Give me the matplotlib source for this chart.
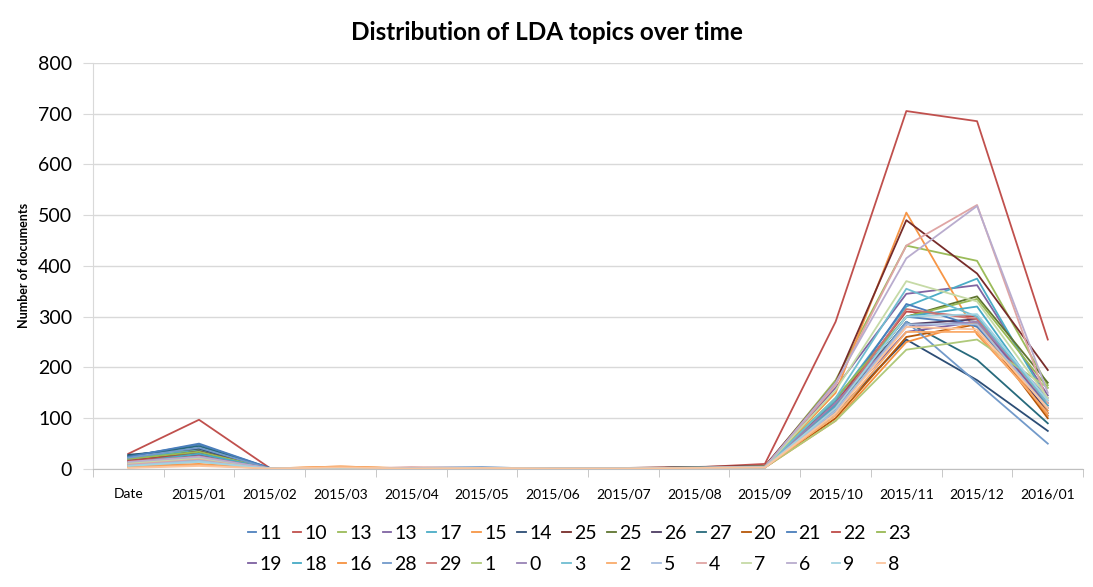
import matplotlib
matplotlib.use("Agg")
import matplotlib.pyplot as plt
from matplotlib.ticker import FixedLocator, NullFormatter

plt.rcParams["font.family"] = ["Lato", "DejaVu Sans"]

categories = ["Date", "2015/01", "2015/02", "2015/03", "2015/04", "2015/05", "2015/06",
              "2015/07", "2015/08", "2015/09", "2015/10", "2015/11", "2015/12", "2016/01"]

topics = ["11", "10", "13", "13", "17", "15", "14", "25", "25", "26", "27", "20", "21", "22", "23",
          "19", "18", "16", "28", "29", "1", "0", "3", "2", "5", "4", "7", "6", "9", "8"]

s11 = [25, 48, 2, 1, 2, 3, 1, 1, 3, 5, 120, 300, 285, 105]
s10 = [30, 97, 2, 1, 3, 2, 1, 2, 3, 10, 290, 705, 685, 255]
s13a = [20, 38, 1, 1, 2, 2, 1, 1, 2, 4, 175, 440, 410, 165]
s13b = [18, 30, 1, 2, 1, 2, 0, 1, 3, 5, 160, 345, 362, 145]
s17 = [22, 36, 1, 1, 2, 1, 1, 1, 2, 4, 135, 320, 375, 135]
s15 = [5, 10, 1, 5, 1, 2, 1, 1, 2, 3, 150, 505, 265, 115]
s14 = [28, 40, 1, 1, 2, 2, 1, 1, 3, 4, 110, 255, 175, 75]
s25a = [15, 35, 1, 1, 2, 2, 1, 2, 4, 6, 170, 490, 385, 195]
s25b = [12, 32, 1, 1, 1, 2, 1, 1, 3, 5, 120, 300, 340, 170]
s26 = [14, 28, 1, 1, 2, 2, 1, 1, 2, 4, 130, 285, 295, 110]
s27 = [26, 45, 2, 1, 2, 2, 1, 1, 3, 5, 115, 290, 215, 90]
s20 = [8, 22, 1, 3, 1, 2, 1, 1, 2, 3, 100, 260, 285, 100]
s21 = [24, 50, 2, 1, 2, 3, 1, 1, 3, 5, 125, 325, 280, 120]
s22 = [16, 30, 1, 1, 2, 2, 1, 1, 3, 5, 130, 310, 300, 120]
s23 = [20, 34, 1, 1, 2, 2, 1, 1, 3, 5, 140, 300, 335, 160]
s19 = [10, 26, 1, 1, 2, 2, 1, 1, 2, 4, 120, 270, 290, 125]
s18 = [12, 30, 1, 1, 1, 2, 1, 1, 2, 4, 125, 300, 320, 125]
s16 = [4, 15, 1, 4, 1, 2, 1, 1, 2, 3, 95, 250, 290, 105]
s28 = [22, 42, 1, 1, 2, 2, 1, 1, 3, 4, 110, 290, 170, 50]
s29 = [14, 25, 1, 1, 2, 2, 1, 1, 2, 4, 120, 315, 295, 130]
s1 = [9, 20, 1, 1, 2, 1, 1, 1, 2, 3, 95, 235, 255, 160]
s0 = [12, 24, 1, 1, 1, 2, 1, 1, 2, 4, 130, 280, 290, 140]
s3 = [10, 18, 1, 1, 2, 2, 1, 1, 2, 3, 140, 355, 300, 130]
s2 = [3, 8, 1, 5, 1, 2, 1, 1, 2, 3, 105, 270, 270, 110]
s5 = [8, 16, 1, 1, 1, 2, 1, 1, 2, 3, 115, 285, 285, 120]
s4 = [10, 20, 1, 1, 2, 2, 1, 1, 2, 4, 165, 440, 520, 130]
s7 = [12, 22, 1, 1, 2, 1, 1, 1, 2, 4, 155, 370, 330, 140]
s6 = [14, 24, 1, 1, 2, 2, 1, 1, 2, 4, 170, 415, 518, 150]
s9 = [6, 14, 1, 1, 1, 2, 1, 1, 2, 3, 120, 300, 305, 135]
s8 = [2, 6, 1, 3, 1, 2, 1, 1, 2, 3, 110, 280, 275, 120]

series = [s11, s10, s13a, s13b, s17, s15, s14, s25a, s25b, s26, s27, s20, s21, s22, s23,
          s19, s18, s16, s28, s29, s1, s0, s3, s2, s5, s4, s7, s6, s9, s8]

colors = [
    "#4F81BD", "#C0504D", "#9BBB59", "#8064A2", "#4BACC6", "#F79646",
    "#2C4D75", "#772C2A", "#5F7530", "#4D3B62", "#276A7C", "#B65708",
    "#4A7EBB", "#BE4B48", "#98B954", "#7D60A0", "#46AAC5", "#F69240",
    "#729ACA", "#CD7371", "#AFC97A", "#9983B5", "#6FBDD1", "#F9AB6B",
    "#A6BDDF", "#DFA5A4", "#C6DAA6", "#B9ACCE", "#A1D3E2", "#FBC59E",
]

fig = plt.figure(figsize=(10.93, 5.87), dpi=100)
ax = fig.add_axes([0.085, 0.201, 0.906, 0.692])

x = list(range(len(categories)))
lines = []
for vals, name, c in zip(series, topics, colors):
    ln, = ax.plot(x, vals, color=c, lw=1.3, label=name)
    lines.append(ln)

ax.set_xlim(-0.5, len(categories) - 0.5)
ax.set_ylim(0, 800)
ax.set_yticks(range(0, 801, 100))
ax.grid(axis="y", color="#d9d9d9", lw=1)
ax.set_axisbelow(True)

ax.set_xticks(x)
ax.set_xticklabels(categories, fontsize=10)
ax.tick_params(axis="x", which="major", length=0, pad=14)
ax.xaxis.set_minor_locator(FixedLocator([i - 0.5 for i in range(len(categories) + 1)]))
ax.xaxis.set_minor_formatter(NullFormatter())
ax.tick_params(axis="x", which="minor", length=6, color="#bfbfbf")
ax.tick_params(axis="y", labelsize=14, length=7, color="#d9d9d9", pad=8)

for s in ["top", "right"]:
    ax.spines[s].set_visible(False)
ax.spines["left"].set_color("#d9d9d9")
ax.spines["bottom"].set_color("#bfbfbf")

ax.set_ylabel("Number of documents", fontsize=9, fontweight="bold", labelpad=6)
fig.suptitle("Distribution of LDA topics over time", fontsize=17.5, fontweight="bold", y=0.965)

# row-major order for a 2-row legend
n = len(lines) // 2
order = []
for i in range(n):
    order += [i, i + n]
leg = fig.legend([lines[i] for i in order], [topics[i] for i in order],
                 loc="center", bbox_to_anchor=(0.53, 0.065), ncol=n, frameon=False,
                 fontsize=14, handlelength=0.45, handletextpad=0.15, columnspacing=0.55,
                 labelspacing=0.75)

fig.savefig("out.png", dpi=100)
